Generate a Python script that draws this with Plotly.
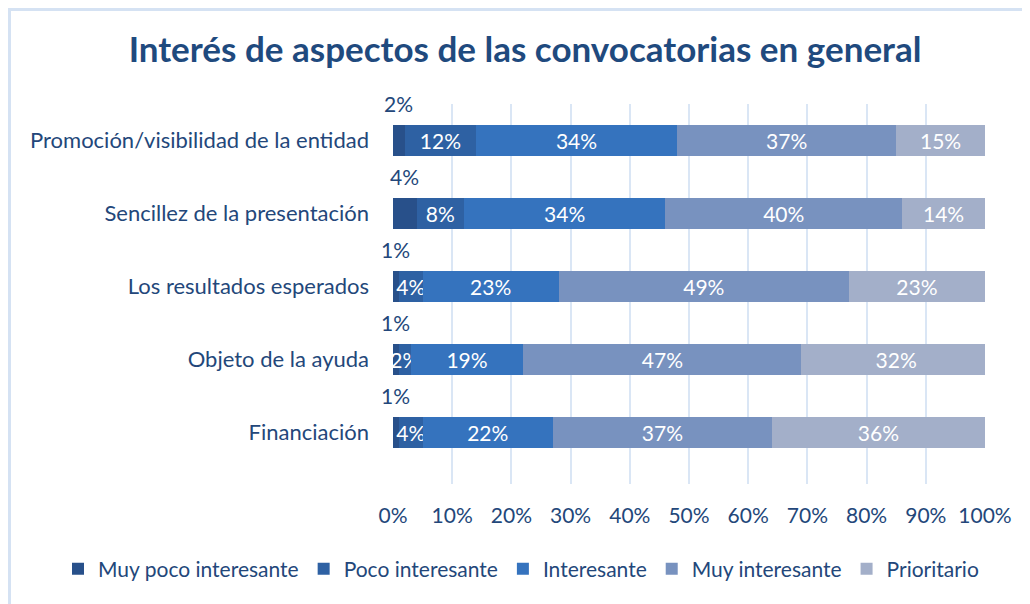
import plotly.graph_objects as go

categories = ["Promoción/visibilidad de la entidad", "Sencillez de la presentación",
              "Los resultados esperados", "Objeto de la ayuda", "Financiación"]
series_names = ["Muy poco interesante", "Poco interesante", "Interesante",
                "Muy interesante", "Prioritario"]
muy_poco = [2, 4, 1, 1, 1]
poco = [12, 8, 4, 2, 4]
interesante = [34, 34, 23, 19, 22]
muy_interesante = [37, 40, 49, 47, 37]
prioritario = [15, 14, 23, 32, 36]
x_ticks = [0, 10, 20, 30, 40, 50, 60, 70, 80, 90, 100]

colors = ["#28508a", "#2e61a3", "#3573be", "#7892bf", "#a3afc9"]
FONT = "Lato"
TXT = "#23477a"
FS = 21

fig = go.Figure()
all_series = [muy_poco, poco, interesante, muy_interesante, prioritario]
for i, (name, vals) in enumerate(zip(series_names, all_series)):
    fig.add_trace(go.Bar(
        name=name, y=categories, x=vals, orientation="h",
        marker=dict(color=colors[i], line=dict(width=0)),
        text=None if i == 0 else [f"{v}%" for v in vals],
        textposition="inside", insidetextanchor="middle",
        constraintext="none", textangle=0,
        textfont=dict(color="white", size=FS, family=FONT),
        hoverinfo="x+y+name",
    ))

# outside labels for the first series
for cat, v in zip(categories, muy_poco):
    fig.add_annotation(x=v / 2, y=cat, text=f"{v}%", showarrow=False,
                       yshift=37, xanchor="center",
                       font=dict(size=FS, color=TXT, family=FONT))

# page body has an 8px margin: build the figure in page coords minus 8
OFF = 8
W, H = 1030 - OFF, 604 - OFF
L = 393 - OFF
T = 104 - OFF
R = W - (985 - OFF)
B = H - (484 - OFF)
pw, ph = W - L - R, H - T - B

fig.add_shape(type="rect", xref="paper", yref="paper",
              x0=(1.5 - L) / pw, x1=(W + 10 - L) / pw,
              y0=(H - B - (H + 10)) / ph, y1=(H - B - 1.5) / ph,
              line=dict(color="#d5e2f3", width=3), fillcolor="rgba(0,0,0,0)",
              layer="below")

fig.update_layout(
    width=W, height=H,
    barmode="stack", bargap=0.58,
    paper_bgcolor="white", plot_bgcolor="white",
    margin=dict(l=L, r=R, t=T, b=B, autoexpand=False),
    font=dict(family=FONT, color=TXT),
    title=dict(text="<b>Interés de aspectos de las convocatorias en general</b>",
               x=(525 - OFF) / W, xanchor="center", xref="container",
               y=1 - (50 - OFF) / H, yanchor="middle", yref="container",
               font=dict(size=35, color="#1f4a7e", family=FONT)),
    xaxis=dict(range=[0, 100], tickvals=x_ticks,
               ticktext=[f"{t}%" for t in x_ticks],
               showgrid=True, gridcolor="#dae6f5", gridwidth=2,
               zeroline=False, showline=False, ticks="",
               ticklabelstandoff=17,
               tickfont=dict(size=FS, color=TXT, family=FONT)),
    yaxis=dict(categoryorder="array", categoryarray=categories,
               autorange="reversed", showgrid=False, zeroline=False,
               ticks="", ticklabelstandoff=23,
               tickfont=dict(size=22, color=TXT, family=FONT)),
    legend=dict(orientation="h", x=((58 - OFF) - L) / pw, xanchor="left", xref="paper",
                y=(476 - (569 - OFF)) / ph, yanchor="middle",
                traceorder="normal", itemwidth=30,
                font=dict(size=FS, color=TXT, family=FONT)),
    showlegend=True,
)

fig.write_html("out.html")
